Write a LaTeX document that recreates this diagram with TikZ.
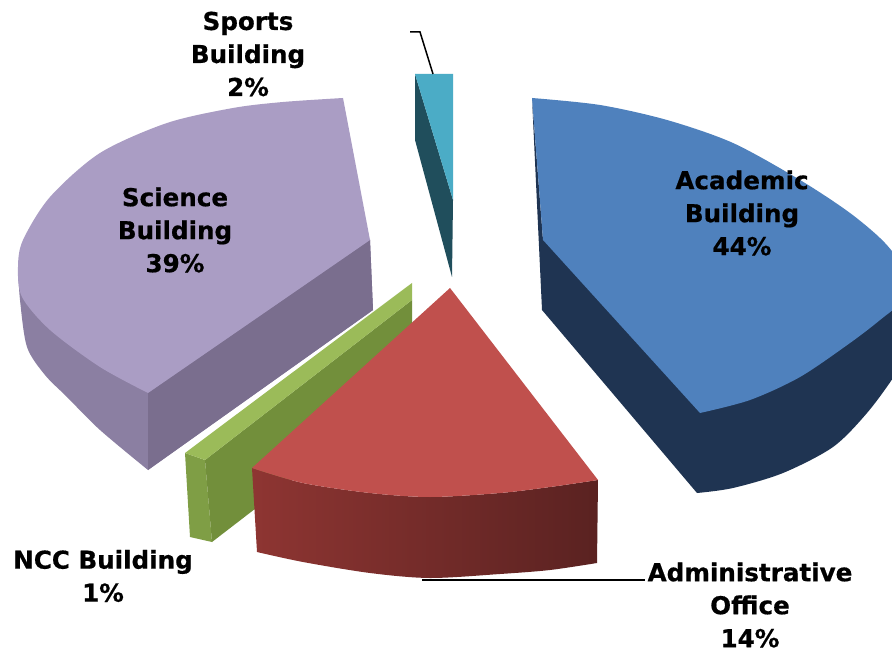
\documentclass[tikz,border=0pt]{standalone}
\usepackage{fontspec}
\setsansfont{DejaVu Sans}[BoldFeatures={FakeBold=0.6}]
\usepackage{tikz}

\definecolor{acadtop}{RGB}{79,129,189}
\definecolor{acadsd}{RGB}{31,52,82}
\definecolor{scitop}{RGB}{170,157,196}
\definecolor{scisd}{RGB}{139,127,162}
\definecolor{scidk}{RGB}{122,110,142}
\definecolor{admtop}{RGB}{192,80,77}
\definecolor{admsdl}{RGB}{142,53,50}
\definecolor{admsdr}{RGB}{90,34,33}
\definecolor{ncctop}{RGB}{155,187,89}
\definecolor{nccend}{RGB}{127,158,69}
\definecolor{nccfr}{RGB}{114,143,59}
\definecolor{sptop}{RGB}{75,172,198}
\definecolor{spdk}{RGB}{32,78,92}

\tikzset{
  lbl/.style={font=\sffamily\bfseries\fontsize{12.3}{16.5}\selectfont, align=center, inner sep=0pt},
  leader/.style={line width=0.75pt, black}
}

\begin{document}
\begin{tikzpicture}[x=0.5pt, y=-0.5pt]
      \useasboundingbox (0,0) rectangle (892,651);
      \fill[white] (0,0) rectangle (892,651);
      \clip (0,0) rectangle (892,651);

      \fill[scisd] plot[smooth] coordinates {(18,267) (20,300) (27,347) (45,375) (67,397) (100,430) (148,470)}
                   -- (373,310) -- (370,240) -- cycle;
      \fill[scidk] (148,393) -- (370,240) -- (373,310) -- (148,470) -- cycle;
      \fill[scitop] (370,240) -- (343,98) -- plot[smooth] coordinates {(343,98) (283,102) (233,108) (167,123)
                   (100,153) (50,197) (23,240) (18,267) (22,297) (50,330) (100,367) (148,393)} -- cycle;

      \fill[spdk] (415,74) -- (453,200) -- (452,277) -- (415,140) -- cycle;
      \fill[sptop] (415,74) -- (453,74) -- (453,200) -- cycle;

      \fill[acadsd] (532,98) -- (542,310) -- (697,493) -- plot[smooth] coordinates {(697,493) (733,488) (783,473)
                   (833,447) (867,413) (895,375) (915,340)} -- (915,290) -- (543,240) -- cycle;
      \fill[acadtop] (543,240) -- (532,98) -- plot[smooth] coordinates {(532,98) (600,105) (667,120) (733,143)
                   (800,180) (850,213) (885,243) (905,272) (902,300) (880,320) (850,343) (800,377) (750,400)
                   (700,413)} -- cycle;

      \fill[nccend] (185,453) -- (205,460) -- (212,542) -- (190,537) -- cycle;
      \fill[nccfr] (205,460) -- (412,300) -- (412,388) -- (212,542) -- cycle;
      \fill[ncctop] (185,453) -- (412,283) -- (412,300) -- (205,460) -- cycle;

      \shade[left color=admsdl, right color=admsdr] (252,468) -- plot[smooth] coordinates {(252,468) (303,483)
                   (370,493) (430,497) (500,493) (550,487) (598,480)} -- (597,563) -- plot[smooth] coordinates
                   {(597,563) (550,570) (500,574) (430,578) (370,573) (303,562) (257,552)} -- cycle;
      \fill[admtop] (450,288) -- (252,468) -- plot[smooth] coordinates {(252,468) (303,483) (370,493) (430,497)
                   (500,493) (550,487) (598,480)} -- cycle;

      \coordinate(SpTip)  at (433,74);
      \coordinate(SpBend) at (420,32);
      \coordinate(SpEnd)  at (410,32);
      \coordinate(AdTip)  at (422,580);
      \coordinate(AdEnd)  at (645,580);

      \draw[leader] (SpTip) -- (SpBend) -- (SpEnd);
      \draw[leader] (AdTip) -- (AdEnd);

      \node[lbl](Sports) at (248,54)  {Sports\\Building\\2\%};
      \node[lbl](Acad)   at (742,213) {Academic\\Building\\44\%};
      \node[lbl](Sci)    at (175,230) {Science\\Building\\39\%};
      \node[lbl](Adm)    at (750,605) {Administrative\\Office\\14\%};
      \node[lbl](Ncc)    at (103,576) {NCC Building\\1\%};
    \end{tikzpicture}
\end{document}
